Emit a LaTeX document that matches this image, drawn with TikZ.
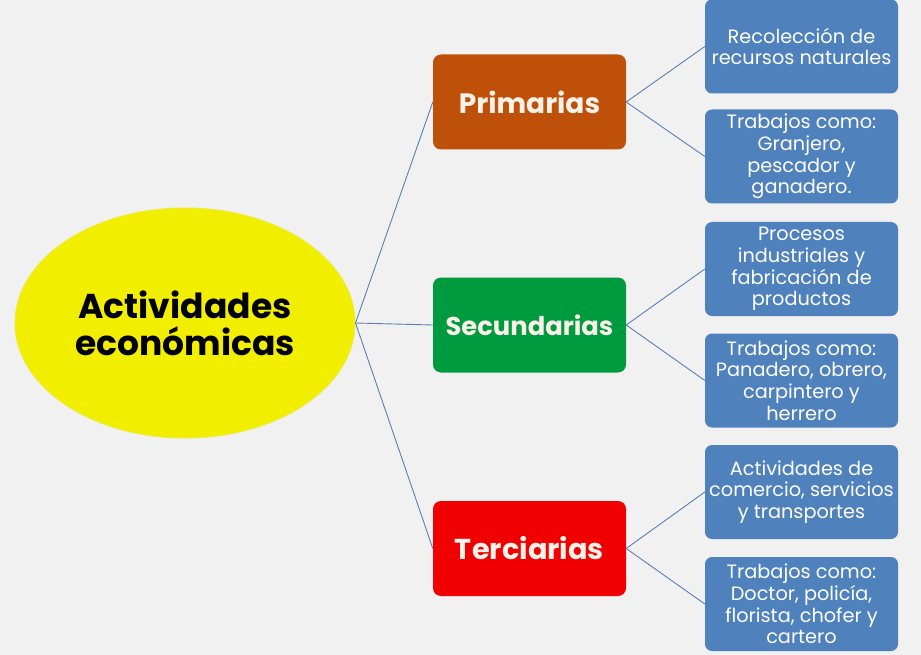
\documentclass[tikz,border=0pt]{standalone}
\usepackage{fontspec}
\setmainfont{Poppins}
\usetikzlibrary{shapes.geometric}
\definecolor{bg}{RGB}{241,241,241}
\definecolor{yel}{RGB}{242,238,0}
\definecolor{yelb}{RGB}{236,236,60}
\definecolor{brn}{RGB}{190,80,10}
\definecolor{grn}{RGB}{0,155,62}
\definecolor{rd}{RGB}{240,0,0}
\definecolor{blu}{RGB}{79,129,189}
\definecolor{ln}{RGB}{90,128,175}
\definecolor{offw}{RGB}{250,242,232}
\begin{document}
\begin{tikzpicture}[x=1pt,y=-1pt,
  cat/.style={draw=none,rounded corners=8pt,minimum width=193pt,minimum height=95pt,
    text=offw,font=\bfseries\fontsize{28}{32}\selectfont,inner sep=0pt},
  leaf/.style={draw=none,fill=blu,rounded corners=7pt,minimum width=193pt,minimum height=94pt,
    text=white,font=\fontsize{19.3}{21.6}\selectfont,align=center,inner sep=0pt},
  conn/.style={draw=ln,line width=0.9pt}]
\fill[bg] (0,0) rectangle (921,655);
\useasboundingbox (0,0) rectangle (921,655);
\node[ellipse,fill=yel,draw=yelb,line width=1pt,minimum width=340pt,minimum height=230pt,
  align=center,font=\bfseries\fontsize{34.5}{37}\selectfont,inner sep=0pt] (root) at (185,323)
  {Actividades\\económicas};
\node[cat,fill=brn] (p) at (529.5,102) {Primarias};
\node[cat,fill=grn,font=\bfseries\fontsize{25.8}{30}\selectfont] (s) at (529.5,325) {Secundarias};
\node[cat,fill=rd,font=\bfseries\fontsize{28.8}{32}\selectfont] (t) at (529.5,548.5) {Terciarias};
\node[leaf] (p1) at (801.5,46.5) {Recolección de\\recursos naturales};
\node[leaf] (p2) at (801.5,156.5) {Trabajos como:\\Granjero,\\pescador y\\ganadero.};
\node[leaf] (s1) at (801.5,269) {Procesos\\industriales y\\fabricación de\\productos};
\node[leaf] (s2) at (801.5,380.5) {Trabajos como:\\Panadero, obrero,\\carpintero y\\herrero};
\node[leaf] (t1) at (801.5,492) {Actividades de\\comercio, servicios\\y transportes};
\node[leaf] (t2) at (801.5,604) {Trabajos como:\\Doctor, policía,\\florista, chofer y\\cartero};
\draw[conn] (root.east) -- (p.west);
\draw[conn] (root.east) -- (s.west);
\draw[conn] (root.east) -- (t.west);
\draw[conn] (p.east) -- (p1.west);
\draw[conn] (p.east) -- (p2.west);
\draw[conn] (s.east) -- (s1.west);
\draw[conn] (s.east) -- (s2.west);
\draw[conn] (t.east) -- (t1.west);
\draw[conn] (t.east) -- (t2.west);
\end{tikzpicture}
\end{document}
